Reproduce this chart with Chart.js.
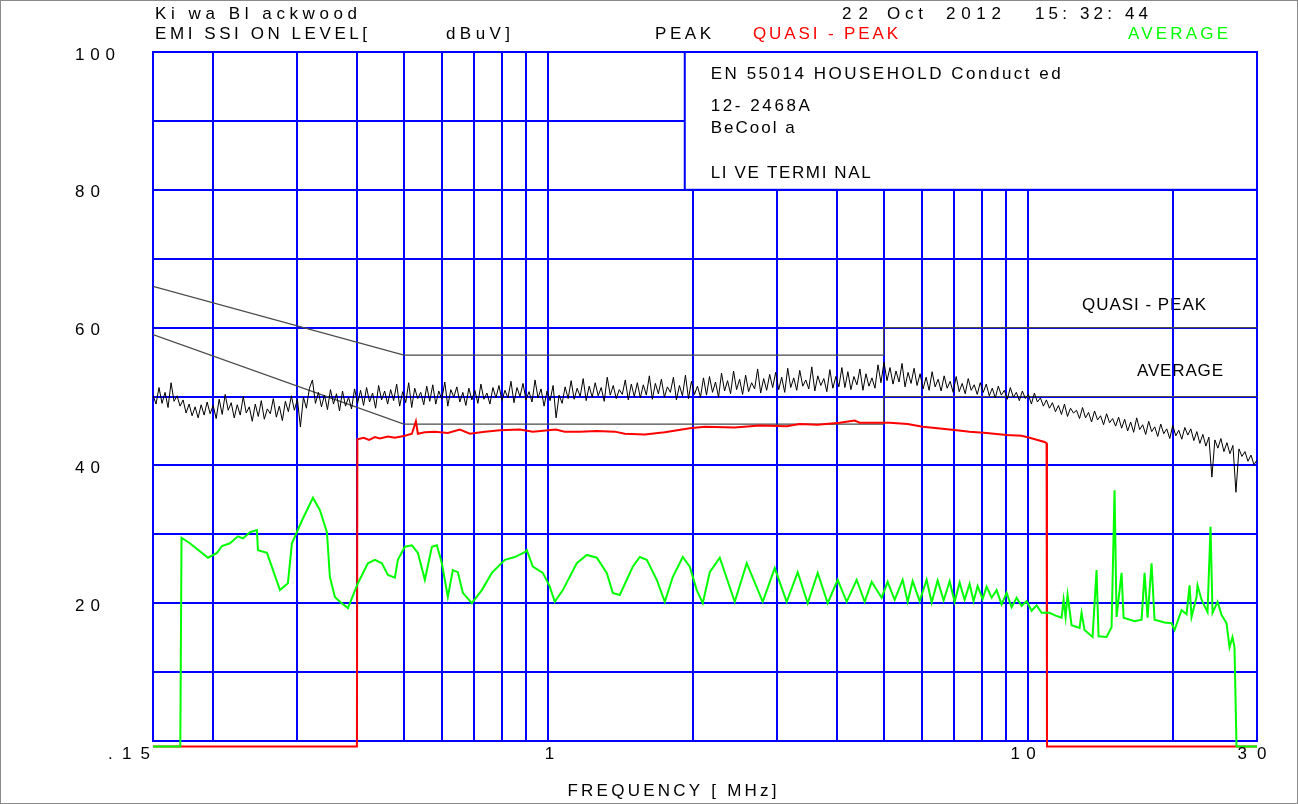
<!DOCTYPE html>
<html>
<head>
<meta charset="utf-8">
<script src="https://cdn.jsdelivr.net/npm/chart.js@4.4.1/dist/chart.umd.min.js"></script>
<style>
  html, body { margin:0; padding:0; background:#fff; }
  #wrap { position:relative; width:1298px; height:804px; }
</style>
</head>
<body>
<div id="wrap"><canvas id="emc" width="1298" height="804"></canvas></div>
<script>
// EN 55014 conducted emission scan, 0.15 - 30 MHz, levels in dBuV

// frequencies that get a vertical grid line (MHz)
const xGrid = [0.15, 0.2, 0.3, 0.4, 0.5, 0.6, 0.7, 0.8, 0.9, 1, 2, 3, 4, 5, 6, 7, 8, 9, 10, 20, 30];
const xLabels = ['.15', '1', '10', '30'];
const xLabelFreqs = [0.15, 1, 10, 30];
const yLabels = [100, 80, 60, 40, 20];

// limit lines (QP and average), EN 55014 household
const limitFreqs = [0.15, 0.5, 5, 5, 30];
const qpLimit = [66, 56, 56, 60, 60];
const avLimit = [59, 46, 46, 50, 50];

// peak sweep: one reading per sweep step, log spaced from 0.15 to 30 MHz
const peakStart = 0.15, peakStop = 30;
const peakLevels = [
  50.2,48.9,51.3,49.0,50.6,48.4,52.0,49.3,50.1,48.6,49.5,47.6,48.9,47.2,48.5,46.9,48.8,47.3,49.2,47.5,48.7,46.8,49.6,
  47.4,50.3,48.0,49.1,46.9,48.8,47.3,50.0,47.6,48.5,46.4,48.9,47.1,49.4,46.7,48.2,47.5,49.7,47.0,48.6,46.5,49.3,47.8,
  50.1,48.0,49.6,45.6,49.9,48.3,51.2,52.4,49.0,50.6,48.5,50.2,48.1,51.0,48.9,50.4,47.9,50.8,48.6,49.9,48.2,51.1,49.0,
  50.9,48.7,51.3,49.2,50.5,48.3,51.6,49.5,50.8,48.9,51.0,49.4,51.8,48.6,50.7,49.1,52.0,48.4,51.2,49.7,50.6,48.8,51.5,
  49.3,51.7,48.9,50.8,49.6,52.1,48.6,51.0,49.9,51.4,49.2,50.6,48.7,51.2,49.5,50.9,49.0,51.8,49.6,50.5,48.9,51.3,49.8,
  51.6,49.4,50.9,49.8,52.2,49.1,51.3,50.0,51.9,49.5,50.7,49.2,52.4,49.8,51.1,48.6,50.8,49.4,51.6,46.9,50.2,49.0,51.4,
  49.7,52.3,49.6,51.2,50.0,52.6,49.4,51.5,49.9,52.0,50.1,51.3,49.3,52.8,50.2,51.6,49.7,51.0,50.3,52.4,49.5,51.8,50.0,
  52.0,49.8,51.7,50.2,53.0,49.6,51.9,50.4,52.5,49.9,51.4,50.6,52.8,49.5,51.6,50.1,53.1,49.7,52.2,50.3,51.5,49.9,52.7,
  50.2,52.9,50.6,52.1,49.9,53.4,50.8,52.3,50.4,53.7,51.0,52.5,50.3,53.1,50.7,52.0,51.1,54.0,50.5,52.6,50.9,53.2,51.3,
  53.5,51.0,52.8,50.6,54.1,51.3,52.7,50.9,53.8,51.5,52.4,51.1,54.3,50.8,53.0,51.6,52.6,50.7,53.9,51.2,52.9,51.4,54.2,
  51.3,53.6,51.0,52.9,51.7,54.0,50.9,53.3,51.5,52.7,51.2,54.6,52.0,55.0,52.3,54.2,51.8,53.7,52.1,54.8,51.4,53.5,51.9,
  54.1,51.6,53.3,51.1,52.8,50.9,53.6,51.4,52.5,50.8,53.0,51.2,52.2,50.6,52.9,50.7,51.9,50.4,52.6,50.9,51.7,50.3,52.0,
  50.6,51.8,50.1,51.2,49.8,51.5,50.2,50.9,49.6,51.3,49.9,50.6,49.4,50.8,49.7,50.3,48.9,50.5,49.2,49.8,48.6,49.5,48.3,
  49.1,47.8,48.7,47.4,48.9,47.1,48.3,47.6,48.0,46.8,48.4,46.9,47.7,46.3,47.9,46.6,47.2,45.9,47.5,46.2,46.8,45.7,47.0,
  45.4,46.7,45.0,46.3,44.8,46.9,45.2,45.9,44.5,46.4,44.9,45.6,44.2,46.0,44.6,45.3,43.9,45.8,44.3,45.1,43.8,45.5,44.4,
  45.3,43.6,44.9,43.2,44.5,42.8,44.1,38.3,43.7,42.5,43.9,42.0,43.3,41.7,42.9,36.1,42.4,41.3,42.0,40.6,41.5,40.1,40.8
];

// quasi-peak readings (below 0.4 MHz and above 11 MHz not measured)
const qpFreqs = [0.15, 0.3991, 0.4, 0.4124, 0.4230, 0.4351, 0.4457, 0.4631, 0.4789, 0.5024,
  0.5196, 0.5297, 0.5348, 0.5530, 0.5802, 0.6175, 0.6542, 0.6863, 0.7375, 0.7925,
  0.8723, 0.9284, 1.0366, 1.0824, 1.1632, 1.2620, 1.3759, 1.4434, 1.589, 1.749,
  1.9718, 2.119, 2.4470, 2.7585, 3.1400, 3.342, 3.6435, 4.0489, 4.3511, 4.4568,
  5.1463, 5.6106, 6.0291, 6.4791, 7.0968, 7.5534, 8.1953, 9.0204, 9.6943, 10.073,
  10.824, 10.928, 10.95, 30];
const qpLevels = [-0.8, -0.8, 43.8, 44.0, 43.7, 44.1, 43.9, 44.2, 44.0, 44.3,
  44.6, 46.4, 44.6, 44.8, 44.9, 44.7, 45.2, 44.6, 44.9, 45.1,
  45.2, 44.9, 45.2, 44.9, 44.9, 45.0, 44.9, 44.6, 44.5, 44.8,
  45.4, 45.6, 45.5, 45.8, 45.7, 46.0, 45.9, 46.2, 46.5, 46.2,
  46.2, 46.0, 45.6, 45.4, 45.1, 44.9, 44.7, 44.4, 44.3, 44.0,
  43.4, 43.2, -0.8, -0.8];

// average readings
const avgFreqs = [0.15,0.171,0.172,0.179,0.1953,0.2039,0.2089,0.2170,0.2255,0.2310,
  0.2389,0.2470,0.2482,0.2592,0.2759,0.2866,0.2922,0.3066,0.3232,0.3342,
  0.3456,0.3506,0.3591,0.3679,0.3823,0.4010,0.4207,0.4351,0.4500,0.4631,
  0.4789,0.4858,0.5024,0.5196,0.5348,0.5530,0.5719,0.5858,0.6000,0.6175,
  0.6325,0.6479,0.6636,0.6929,0.7269,0.7627,0.8117,0.8515,0.8934,0.9020,
  0.9284,0.9740,1.0073,1.0316,1.0721,1.1465,1.2029,1.2620,1.3240,1.3626,
  1.4093,1.4573,1.5,1.5513,1.6043,1.6830,1.7490,1.8173,1.9067,1.9718,
  2.0390,2.0986,2.1704,2.2770,2.4470,2.5918,2.7985,2.9644,3.1400,3.3100,
  3.4726,3.6435,3.8226,4.0101,4.1871,4.3926,4.5649,4.7207,4.9523,5.0969,
  5.2715,5.4773,5.6106,5.7464,5.9429,6.1458,6.2952,6.4791,6.6681,6.8629,
  7.0285,7.1998,7.3745,7.5534,7.6996,7.8493,8.0394,8.1953,8.3944,8.5978,
  8.8062,9.0204,9.2397,9.4632,9.6943,9.9287,10.170,10.416,10.669,11.087,
  11.410,11.745,11.857,11.972,12.087,12.321,12.803,12.926,13.114,13.627,
  13.890,14.025,14.574,14.928,15.144,15.291,15.662,15.813,16.671,17.241,
  17.490,17.744,18.087,18.347,19.251,19.909,20.197,20.888,21.393,21.704,
  21.913,22.444,22.552,22.988,23.659,24.003,24.234,24.824,25.306,25.918,
  26.295,26.673,26.929,27.190,30];
const avgLevels = [-0.8,-0.8,29.5,28.7,26.6,27.3,28.3,28.7,29.7,29.4,
  30.3,30.6,27.7,27.3,21.9,22.9,28.7,32.0,35.3,33.5,
  30.3,23.8,20.9,20.2,19.3,22.9,25.8,26.3,25.8,24.1,
  23.7,26.3,28.2,28.4,27.3,23.4,28.2,28.4,25.8,20.9,
  24.8,24.5,21.5,20.0,21.9,24.4,26.3,26.7,27.4,27.7,
  25.3,24.4,22.4,20.2,21.9,25.8,27.0,26.6,24.4,21.5,
  21.2,23.4,25.3,26.7,26.3,23.4,20.2,23.8,26.7,25.3,
  21.9,20.0,24.5,26.6,20.2,25.8,20.2,25.1,20.2,24.5,
  20.0,24.4,20.0,23.4,20.2,23.4,20.2,23.1,20.8,23.1,
  20.5,23.4,20.2,23.2,20.3,23.4,20.1,23.3,20.4,23.2,
  20.2,23.0,20.5,22.8,20.3,22.5,20.6,22.4,20.8,21.9,
  19.8,21.5,19.4,20.8,19.6,20.3,18.9,19.7,18.6,18.6,
  18.2,17.9,20.5,18.0,21.2,16.8,16.4,18.6,16.1,15.1,
  24.8,15.2,15.1,16.5,36.4,18.0,24.4,17.9,17.4,17.6,
  24.4,17.9,25.8,17.6,17.2,17.1,16.1,19.0,18.4,22.6,
  18.0,20.9,22.6,20.5,18.7,31.1,18.6,20.2,18.3,17.1,
  13.6,15.1,13.6,-0.8,-0.8];

const BLUE = '#0000ff';
const FONT = '"Liberation Sans", Arial, sans-serif';

const toXY = (fs, vs) => fs.map((f, i) => ({x: f, y: vs[i]}));
const peakFreqs = peakLevels.map((_, i) =>
  peakStart * Math.pow(peakStop / peakStart, i / (peakLevels.length - 1)));

// draw a string stretched (via letter spacing) to a given visible width
function fitText(ctx, s, x, y, w, color, align) {
  ctx.save();
  ctx.font = '17px ' + FONT;
  ctx.letterSpacing = '0px';
  const m = ctx.measureText(s).width;
  const ls = s.length > 1 ? (w - m) / (s.length - 1) : 0;
  ctx.letterSpacing = ls.toFixed(2) + 'px';
  ctx.fillStyle = color || '#000';
  ctx.textBaseline = 'middle';
  let left = x;
  if (align === 'center') left = x - w / 2;
  else if (align === 'right') left = x - w;
  ctx.textAlign = 'left';
  ctx.fillText(s, left, y);
  ctx.restore();
}

const emcText = {
  id: 'emcText',
  // labels sitting under the grid
  beforeDraw(chart) {
    const ctx = chart.ctx;
    fitText(ctx, 'QUASI - PEAK', 1082, 305, 124);
    fitText(ctx, 'AVERAGE', 1137, 371, 86);
  },
  // white info panel covering the upper right grid cells
  beforeDatasetsDraw(chart) {
    const ctx = chart.ctx, xs = chart.scales.x, ys = chart.scales.y;
    const l = xs.getPixelForValue(1.925), r = xs.getPixelForValue(30);
    const t = ys.getPixelForValue(100), b = ys.getPixelForValue(80);
    ctx.save();
    ctx.fillStyle = '#fff';
    ctx.fillRect(l, t, r - l, b - t);
    ctx.strokeStyle = BLUE;
    ctx.lineWidth = 2;
    ctx.strokeRect(l, t, r - l, b - t);
    ctx.restore();
    fitText(ctx, 'EN 55014 HOUSEHOLD Conduct ed', l + 26, t + 22, 350);
    fitText(ctx, '12- 2468A', l + 26, t + 54, 99);
    fitText(ctx, 'BeCool a', l + 26, t + 76, 84);
    fitText(ctx, 'LI VE TERMI NAL', l + 26, t + 121, 160);
  },
  afterDraw(chart) {
    const ctx = chart.ctx, xs = chart.scales.x, ys = chart.scales.y;
    const area = chart.chartArea;
    // header
    fitText(ctx, 'Ki wa Bl ackwood', area.left + 2, 14, 202);
    fitText(ctx, 'EMI SSI ON LEVEL[', area.left + 2, 34, 212);
    fitText(ctx, 'dBuV]', 446, 34, 64);
    fitText(ctx, '22', 842, 14, 26);
    fitText(ctx, 'Oct', 887, 14, 36);
    fitText(ctx, '2012', 946, 14, 55);
    fitText(ctx, '15: 32: 44', 1035, 14, 113);
    fitText(ctx, 'PEAK', 655, 34, 56);
    fitText(ctx, 'QUASI - PEAK', 753, 34, 145, '#ff0000');
    fitText(ctx, 'AVERAGE', 1128, 34, 100, '#00ff00');
    // y tick labels
    yLabels.forEach(v => {
      fitText(ctx, String(v), area.left - 78, ys.getPixelForValue(v) + 3, v >= 100 ? 40 : 25);
    });
    // x tick labels
    const xw = [42, 9, 25, 29];
    const xoff = [-24, 1, -5, -5];
    xLabels.forEach((s, i) => {
      fitText(ctx, s, xs.getPixelForValue(xLabelFreqs[i]) + xoff[i], area.bottom + 13, xw[i], '#000', 'center');
    });
    fitText(ctx, 'FREQUENCY [ MHz]', 672, 791, 209, '#000', 'center');
    // outer frame
    ctx.save();
    ctx.strokeStyle = '#8a8a8a';
    ctx.lineWidth = 1;
    ctx.strokeRect(0.5, 0.5, chart.width - 1, chart.height - 1);
    ctx.restore();
  }
};

const lineStyle = {pointRadius: 0, tension: 0, fill: false};

new Chart(document.getElementById('emc'), {
  type: 'line',
  data: {
    datasets: [
      Object.assign({label: 'AVERAGE', data: toXY(avgFreqs, avgLevels),
        borderColor: '#00ff00', borderWidth: 2, clip: 10}, lineStyle),
      Object.assign({label: 'QUASI - PEAK', data: toXY(qpFreqs, qpLevels),
        borderColor: '#ff0000', borderWidth: 2, clip: 10}, lineStyle),
      Object.assign({label: 'PEAK', data: toXY(peakFreqs, peakLevels),
        borderColor: '#000000', borderWidth: 1}, lineStyle),
      Object.assign({label: 'QP limit', data: toXY(limitFreqs, qpLimit),
        borderColor: '#4a4a4a', borderWidth: 1.2}, lineStyle),
      Object.assign({label: 'AV limit', data: toXY(limitFreqs, avLimit),
        borderColor: '#4a4a4a', borderWidth: 1.2}, lineStyle)
    ]
  },
  options: {
    responsive: false,
    animation: false,
    events: [],
    layout: {padding: {left: 153, top: 52, right: 41, bottom: 63}},
    plugins: {legend: {display: false}, tooltip: {enabled: false}},
    scales: {
      x: {
        type: 'logarithmic',
        min: 0.15,
        max: 30,
        afterBuildTicks: axis => { axis.ticks = xGrid.map(v => ({value: v})); },
        ticks: {display: false},
        grid: {color: BLUE, lineWidth: 2, drawTicks: false},
        border: {color: BLUE, width: 2}
      },
      y: {
        min: 0,
        max: 100,
        ticks: {display: false, stepSize: 10},
        grid: {color: BLUE, lineWidth: 2, drawTicks: false},
        border: {color: BLUE, width: 2}
      }
    }
  },
  plugins: [emcText]
});
</script>
</body>
</html>
